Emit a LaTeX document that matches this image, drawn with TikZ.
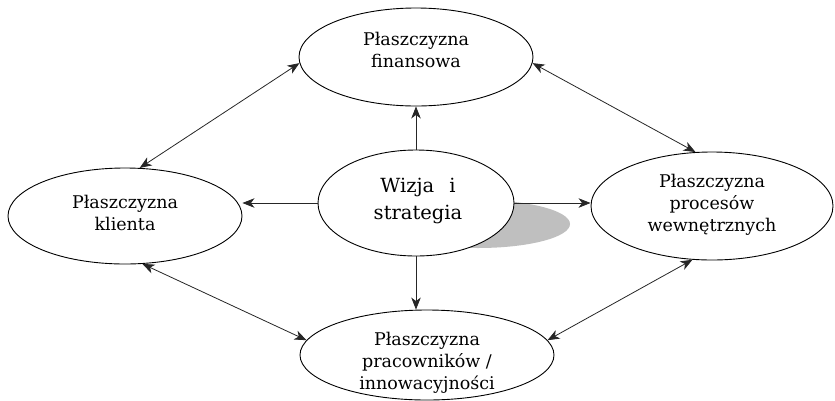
\documentclass[tikz,border=0pt]{standalone}
\usepackage{fontspec}
\newfontfamily\tnr{DejaVu Serif}
\usetikzlibrary{arrows.meta,shapes.geometric}
\begin{document}
\begin{tikzpicture}[x=1pt,y=-1pt,
 oval/.style={ellipse,draw=black,line width=0.9pt,fill=white,inner sep=0pt},
 lbl/.style={anchor=north,align=center,inner sep=0pt,font=\tnr\fontsize{17.5}{22}\selectfont},
 biglbl/.style={anchor=north,align=center,inner sep=0pt,font=\tnr\fontsize{19.5}{27}\selectfont},
 tip/.tip={Stealth[length=12pt,width=9.5pt,inset=3.5pt]},
 arr/.style={draw=black!85,line width=0.8pt,-tip},
 darr/.style={draw=black!85,line width=0.8pt,tip-tip},
 shadowfill/.style={fill=gray!50}]
\useasboundingbox (0,0) rectangle (835,400);
% shadow of the central ellipse
\fill[shadowfill] (478,224) ellipse [x radius=92pt, y radius=24pt];
% ellipses
\node[oval,minimum width=234pt,minimum height=98pt] (top) at (416,57) {};
\node[oval,minimum width=234pt,minimum height=96pt] (left) at (125,216) {};
\node[oval,minimum width=242pt,minimum height=108pt] (right) at (712,206) {};
\node[oval,minimum width=254pt,minimum height=90pt] (bottom) at (427,355) {};
\node[oval,minimum width=196pt,minimum height=106pt] (center) at (416,203) {};
% texts
\node[lbl] (ttop) at (416,32) {Płaszczyzna\\finansowa};
\node[lbl] (tleft) at (125,195) {Płaszczyzna\\klienta};
\node[lbl] (tright) at (712,174) {Płaszczyzna\\procesów\\wewnętrznych};
\node[lbl] (tbottom) at (427,332) {Płaszczyzna\\pracowników /\\innowacyjności};
\node[biglbl] (tcenter) at (418,178) {Wizja \hspace{9pt}i\\strategia};
% arrows from centre
\draw[arr] (center.north) -- (top.south);
\draw[arr] (center.west) -- (center.west -| left.east);
\draw[arr] (center.east) -- (center.east -| right.west);
\draw[arr] (center.south) -- (center.south |- bottom.north);
% double arrows
\draw[darr] (top.183) -- (left.73);
\draw[darr] (top.357) -- (right.107);
\draw[darr] (left.290) -- (bottom.173);
\draw[darr] (right.250) -- (bottom.7);
\end{tikzpicture}
\end{document}
